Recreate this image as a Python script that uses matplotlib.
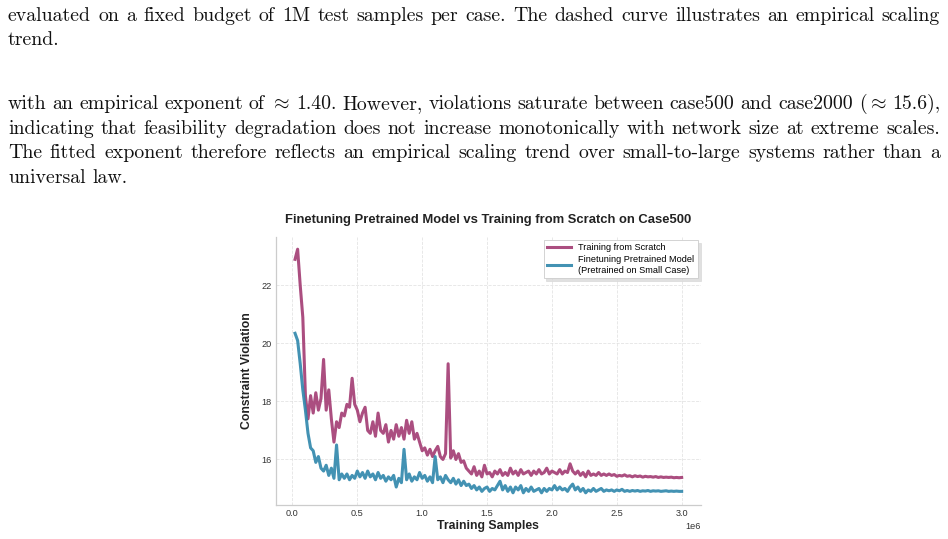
import numpy as np
import matplotlib
matplotlib.use("Agg")
import matplotlib.pyplot as plt

W, H = 948, 539

# training samples (x axis)
samples = np.arange(20000, 3000001, 20000)

scratch = [
    22.9, 23.25, 22.0, 20.9, 18.2, 17.4, 18.2, 17.6, 18.3, 17.7,
    18.1, 19.45, 17.7, 18.4, 17.4, 16.6, 17.3, 17.1, 17.6, 17.5,
    17.9, 17.8, 18.8, 17.9, 17.7, 17.3, 17.6, 17.8, 17.0, 16.9,
    17.3, 16.8, 17.6, 17.0, 16.9, 17.2, 16.6, 17.0, 16.7, 17.2,
    16.8, 17.1, 16.7, 17.35, 16.9, 17.3, 16.7, 16.9, 16.6, 16.3,
    16.4, 16.15, 16.35, 16.1, 16.3, 16.45, 16.1, 16.0, 16.2, 19.3,
    16.05, 16.3, 16.0, 16.2, 15.9, 15.95, 15.7, 15.6, 15.5, 15.75,
    15.45, 15.6, 15.4, 15.8, 15.5, 15.55, 15.4, 15.6, 15.5, 15.65,
    15.45, 15.55, 15.45, 15.7, 15.5, 15.6, 15.45, 15.65, 15.5, 15.55,
    15.6, 15.45, 15.6, 15.5, 15.65, 15.5, 15.55, 15.7, 15.5, 15.6,
    15.55, 15.5, 15.65, 15.5, 15.6, 15.55, 15.85, 15.6, 15.5, 15.6,
    15.45, 15.55, 15.4, 15.6, 15.45, 15.5, 15.45, 15.55, 15.45, 15.5,
    15.45, 15.5, 15.45, 15.48, 15.42, 15.45, 15.43, 15.47, 15.42, 15.44,
    15.4, 15.44, 15.41, 15.43, 15.39, 15.42, 15.4, 15.41, 15.39, 15.41,
    15.38, 15.4, 15.38, 15.39, 15.38, 15.39, 15.37, 15.38, 15.37, 15.38,
]

finetune = [
    20.35, 20.1, 19.3, 18.4, 17.7, 16.9, 16.4, 16.3, 15.9, 16.1,
    15.7, 15.6, 15.8, 15.45, 15.7, 15.35, 16.5, 15.3, 15.5, 15.35,
    15.5, 15.3, 15.45, 15.35, 15.6, 15.4, 15.55, 15.35, 15.6, 15.4,
    15.5, 15.3, 15.55, 15.35, 15.45, 15.25, 15.4, 15.3, 15.45, 15.05,
    15.35, 15.2, 16.35, 15.3, 15.5, 15.25, 15.4, 15.3, 15.55, 15.35,
    15.45, 15.25, 15.4, 15.2, 16.1, 15.3, 15.4, 15.2, 15.45, 15.3,
    15.2, 15.35, 15.15, 15.3, 15.1, 15.25, 15.1, 15.15, 15.0, 15.1,
    14.95, 15.05, 14.9, 15.0, 15.05, 14.9, 15.0, 14.95, 15.1, 15.25,
    14.95, 15.1, 14.9, 15.05, 14.85, 15.05, 14.95, 15.1, 14.85, 15.0,
    14.9, 15.05, 14.9, 14.95, 15.0, 14.85, 15.0, 14.9, 15.0, 14.95,
    15.1, 14.95, 15.05, 14.95, 15.0, 14.9, 15.05, 15.15, 14.95, 15.05,
    14.9, 15.0, 14.85, 14.95, 14.9, 15.0, 14.9, 14.95, 15.0, 14.9,
    14.95, 14.92, 14.95, 14.9, 14.95, 14.92, 14.97, 14.9, 14.93, 14.9,
    14.93, 14.91, 14.93, 14.9, 14.92, 14.91, 14.93, 14.9, 14.92, 14.91,
    14.92, 14.9, 14.91, 14.92, 14.9, 14.91, 14.9, 14.91, 14.9, 14.9,
]

labels = ["Training from Scratch",
          "Finetuning Pretrained Model\n(Pretrained on Small Case)"]

# page text around the figure: (line, baseline y in px, justified?)
page_lines = [
    ("evaluated on a fixed budget of 1M test samples per case. The dashed curve illustrates an empirical scaling", 21, True),
    ("trend.", 45, False),
    ("with an empirical exponent of $\\approx$ 1.40. However, violations saturate between case500 and case2000 ($\\approx$ 15.6),", 109, True),
    ("indicating that feasibility degradation does not increase monotonically with network size at extreme scales.", 134, True),
    ("The fitted exponent therefore reflects an empirical scaling trend over small-to-large systems rather than a", 158, True),
    ("universal law.", 183, False),
]

plt.rcParams['font.family'] = ['Liberation Sans', 'DejaVu Sans']
plt.rcParams['mathtext.fontset'] = 'cm'
plt.rcParams['axes.formatter.use_mathtext'] = False

fig = plt.figure(figsize=(W / 100, H / 100), dpi=100)
fig.patch.set_facecolor('white')


def place_line(text, base_y, justify, x0=8, x1=940, fs=14.3):
    words = text.split(' ')
    r = fig.canvas.get_renderer()
    objs = []
    for w in words:
        t = fig.text(0, 1 - base_y / H, w, fontsize=fs, family='cmr10',
                     va='baseline', ha='left', color='#111111')
        objs.append(t)
    widths = [t.get_window_extent(r).width for t in objs]
    space = fs * 100 / 72 * 0.333
    if justify and len(objs) > 1:
        gap = (x1 - x0 - sum(widths)) / (len(objs) - 1)
    else:
        gap = space
    x = x0
    for t, wd in zip(objs, widths):
        t.set_x(x / W)
        x += wd + gap


for txt, yb, just in page_lines:
    place_line(txt, yb, just)

ax = fig.add_axes([275.7 / W, 1 - 505 / H, (701 - 275.7) / W, (505 - 237) / H])
ax.plot(samples, scratch, color='#A23B72', lw=2.2, alpha=0.9, label=labels[0])
ax.plot(samples, finetune, color='#2E86AB', lw=2.2, alpha=0.9, label=labels[1])

ax.set_yticks([16, 18, 20, 22])
ax.grid(True, color='#dddddd', linestyle='--', linewidth=0.6, alpha=0.8)
ax.set_axisbelow(True)
for s in ['top', 'right']:
    ax.spines[s].set_visible(False)
for s in ['left', 'bottom']:
    ax.spines[s].set_color('#cccccc')
    ax.spines[s].set_linewidth(0.9)
ax.tick_params(length=0, labelsize=6.6, labelcolor='#333333', pad=3)
ax.xaxis.get_offset_text().set_fontsize(6.6)
ax.xaxis.get_offset_text().set_color('#333333')

ax.set_xlabel('Training Samples', fontsize=8.8, fontweight='bold', color='#222222', labelpad=1)
ax.set_ylabel('Constraint Violation', fontsize=8.8, fontweight='bold', color='#222222', labelpad=6)
ax.set_title('Finetuning Pretrained Model vs Training from Scratch on Case500',
             fontsize=9.4, fontweight='bold', color='#222222', pad=10)

leg = ax.legend(loc='upper right', fontsize=6.6, frameon=True, fancybox=False,
                shadow={'color': '#d4d4d4', 'alpha': 0.7},
                framealpha=1, edgecolor='#cccccc', handlelength=2.6, borderaxespad=0.3,
                labelspacing=0.3)
leg.get_frame().set_linewidth(0.6)

fig.savefig('out.png', dpi=100)
